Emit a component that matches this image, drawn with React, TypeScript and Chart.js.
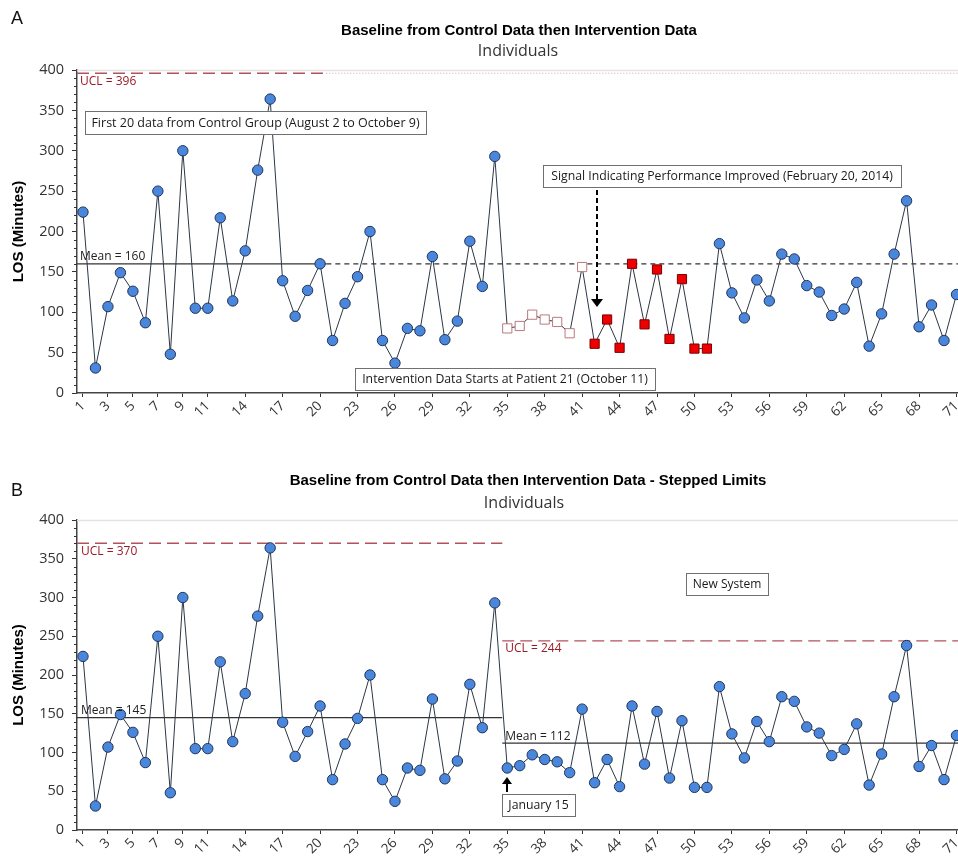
import React, { useEffect, useRef } from 'react';
import { Chart, registerables } from 'chart.js';

Chart.register(...registerables);

// ---------------- DATA ----------------
const losValues: number[] = [
  224, 31, 107, 149, 126, 87, 250, 48, 300, 105,
  105, 217, 114, 176, 276, 364, 139, 95, 127, 160,
  65, 111, 144, 200, 65, 37, 80, 77, 169, 66,
  89, 188, 132, 293, 80, 83, 97, 91, 88, 74,
  156, 61, 91, 56, 160, 85, 153, 67, 141, 55,
  55, 185, 124, 93, 140, 114, 172, 166, 133, 125,
  96, 104, 137, 58, 98, 172, 238, 82, 109, 65,
  122,
];
const patientNumbers: number[] = losValues.map((_, i) => i + 1);
const xTickValues: number[] = [1, 3, 5, 7, 9, 11, 14, 17, 20, 23, 26, 29, 32, 35, 38, 41, 44, 47, 50, 53, 56, 59, 62, 65, 68, 71];
const yTickValues: number[] = [0, 50, 100, 150, 200, 250, 300, 350, 400];

// Panel A: baseline limits from first 20 points, extended
const uclA = 396;
const meanA = 160;
const baselineEndA = 20.5;
// points flagged in panel A
const runPoints: number[] = [35, 36, 37, 38, 39, 40, 41];
const signalPoints: number[] = [42, 43, 44, 45, 46, 47, 48, 49, 50, 51];

// Panel B: stepped limits
const uclB: number[] = [370, 244];
const meanB: number[] = [145, 112];
const stepAtB = 34.6;

const X_MIN = 0.52;
const X_MAX = 71.12;

// ---------------- STYLE ----------------
const W = 958;
const FONT = "'Open Sans', 'Noto Sans', sans-serif";
const TITLE_FONT = "'Liberation Sans', Arial, sans-serif";
const BLUE = '#4a87dc';
const BLUE_BORDER = '#1f3559';
const LINE = '#2c3644';
const UCL_COLOR = '#b4525c';
const UCL_TEXT = '#9a1b27';

type Label = { text: string; x: number; y: number; color: string; base: CanvasTextBaseline };
type Box = { text: string; left: number; top: number; right: number; bottom: number };

type PanelCfg = {
  height: number;
  plotTop: number;
  plotBottom: number;
  title: string;
  titleX: number;
  titleY: number;
  subX: number;
  subY: number;
  letter: string;
  letterY: number;
  datasets: any[];
  labels: (chart: any) => Label[];
  boxes: Box[];
  extra?: (ctx: CanvasRenderingContext2D, chart: any) => void;
};

function seg(from: number, to: number, value: number, color: string, dash: number[], width: number) {
  return {
    data: [{ x: from, y: value }, { x: to, y: value }],
    borderColor: color,
    borderDash: dash,
    borderWidth: width,
    pointRadius: 0,
    fill: false,
    tension: 0,
  };
}

function drawFitText(ctx: CanvasRenderingContext2D, text: string, cx: number, cy: number, maxW: number, size: number) {
  let s = size;
  ctx.font = `${s}px ${FONT}`;
  while (ctx.measureText(text).width > maxW && s > 8) {
    s -= 0.25;
    ctx.font = `${s}px ${FONT}`;
  }
  ctx.textAlign = 'center';
  ctx.textBaseline = 'middle';
  ctx.fillText(text, cx, cy + 1);
}

function makePlugin(cfg: PanelCfg) {
  return {
    id: 'panelDecor',
    afterDraw(chart: any) {
      const ctx: CanvasRenderingContext2D = chart.ctx;
      const { left, right, top, bottom } = chart.chartArea;
      const ys = chart.scales.y;
      ctx.save();
      // top border of plot
      ctx.strokeStyle = '#e2e2e2';
      ctx.lineWidth = 1.5;
      ctx.beginPath();
      ctx.moveTo(left, top + 0.5);
      ctx.lineTo(right, top + 0.5);
      ctx.stroke();
      // minor ticks on y
      ctx.strokeStyle = '#333';
      ctx.lineWidth = 1;
      for (let v = 10; v < 400; v += 10) {
        if (v % 50 === 0) continue;
        const y = Math.round(ys.getPixelForValue(v)) + 0.5;
        ctx.beginPath();
        ctx.moveTo(left - 3, y);
        ctx.lineTo(left, y);
        ctx.stroke();
      }
      // letter
      ctx.fillStyle = '#111';
      ctx.font = `18px ${TITLE_FONT}`;
      ctx.textAlign = 'left';
      ctx.textBaseline = 'middle';
      ctx.fillText(cfg.letter, 11, cfg.letterY);
      // title
      ctx.font = `bold 15px ${TITLE_FONT}`;
      ctx.textAlign = 'center';
      ctx.fillStyle = '#000';
      ctx.fillText(cfg.title, cfg.titleX, cfg.titleY);
      ctx.font = `16px ${FONT}`;
      ctx.fillStyle = '#333';
      ctx.fillText('Individuals', cfg.subX, cfg.subY);
      // y axis title
      ctx.save();
      ctx.translate(19, (top + bottom) / 2);
      ctx.rotate(-Math.PI / 2);
      ctx.font = `bold 15px ${TITLE_FONT}`;
      ctx.fillStyle = '#000';
      ctx.textAlign = 'center';
      ctx.textBaseline = 'middle';
      ctx.fillText('LOS (Minutes)', 0, 0);
      ctx.restore();
      // limit labels
      for (const l of cfg.labels(chart)) {
        ctx.font = `12px ${FONT}`;
        ctx.fillStyle = l.color;
        ctx.textAlign = 'left';
        ctx.textBaseline = l.base;
        ctx.fillText(l.text, l.x, l.y);
      }
      // extra (arrows)
      if (cfg.extra) cfg.extra(ctx, chart);
      // boxes
      for (const b of cfg.boxes) {
        ctx.fillStyle = '#fff';
        ctx.fillRect(b.left, b.top, b.right - b.left, b.bottom - b.top);
        ctx.strokeStyle = '#707070';
        ctx.lineWidth = 1;
        ctx.strokeRect(b.left + 0.5, b.top + 0.5, b.right - b.left, b.bottom - b.top);
        ctx.fillStyle = '#1a1a1a';
        drawFitText(ctx, b.text, (b.left + b.right) / 2, (b.top + b.bottom) / 2, b.right - b.left - 12, 14);
      }
      ctx.restore();
    },
  };
}

function buildOptions(cfg: PanelCfg) {
  return {
    responsive: false,
    animation: false as const,
    events: [],
    layout: { autoPadding: false, padding: { top: cfg.plotTop, left: 0, right: 0, bottom: 0 } },
    plugins: { legend: { display: false }, tooltip: { enabled: false }, title: { display: false } },
    scales: {
      x: {
        type: 'linear' as const,
        min: X_MIN,
        max: X_MAX,
        afterBuildTicks: (s: any) => {
          s.ticks = xTickValues.map((v) => ({ value: v }));
        },
        afterFit: (s: any) => {
          s.height = cfg.height - cfg.plotBottom;
          s.paddingLeft = 0;
          s.paddingRight = 0;
        },
        grid: { display: true, drawOnChartArea: false, drawTicks: true, tickLength: 4, color: '#333' },
        border: { display: true, color: '#444', width: 1.5 },
        ticks: {
          autoSkip: false,
          minRotation: 45,
          maxRotation: 45,
          padding: 1,
          color: '#333',
          font: { family: FONT, size: 13.5 },
          callback: (v: any) => String(v),
        },
      },
      y: {
        type: 'linear' as const,
        min: 0,
        max: 400,
        afterBuildTicks: (s: any) => {
          s.ticks = yTickValues.map((v) => ({ value: v }));
        },
        afterFit: (s: any) => {
          s.width = 77;
          s.paddingTop = 0;
          s.paddingBottom = 0;
        },
        grid: { display: true, drawOnChartArea: false, drawTicks: true, tickLength: 5, color: '#333' },
        border: { display: true, color: '#444', width: 1.5 },
        ticks: { padding: 8, color: '#333', font: { family: FONT, size: 14.5 } },
      },
    },
  };
}

function dataDataset(style: (n: number) => 'A' | 'R' | 'S') {
  const points = patientNumbers.map((n, i) => ({ x: n, y: losValues[i] }));
  const kinds = patientNumbers.map(style);
  return {
    data: points,
    borderColor: LINE,
    borderWidth: 1,
    fill: false,
    tension: 0,
    pointStyle: kinds.map((k) => (k === 'A' ? 'circle' : 'rect')),
    pointRadius: kinds.map((k) => (k === 'A' ? 5.2 : 6.5)),
    pointBackgroundColor: kinds.map((k) => (k === 'A' ? BLUE : k === 'R' ? '#ffffff' : '#ee0000')),
    pointBorderColor: kinds.map((k) => (k === 'A' ? BLUE_BORDER : k === 'R' ? '#b97a7d' : '#7a0000')),
    pointBorderWidth: 1,
  };
}

function panelA(): PanelCfg {
  return {
    height: 430,
    plotTop: 70,
    plotBottom: 393,
    title: 'Baseline from Control Data then Intervention Data',
    titleX: 519,
    titleY: 31,
    subX: 518,
    subY: 51,
    letter: 'A',
    letterY: 19,
    datasets: [
      dataDataset((n) => (runPoints.includes(n) ? 'R' : signalPoints.includes(n) ? 'S' : 'A')),
      seg(X_MIN, baselineEndA, meanA, '#333', [], 1.3),
      seg(baselineEndA, X_MAX, meanA, '#333', [5, 4], 1.3),
      seg(X_MIN, baselineEndA, uclA, UCL_COLOR, [12, 6], 1.3),
      seg(baselineEndA, X_MAX, uclA, '#c9a0a4', [1, 2], 1),
    ],
    labels: (chart) => {
      const xs = chart.scales.x;
      const ys = chart.scales.y;
      const x0 = xs.getPixelForValue(X_MIN) + 3;
      return [
        { text: `UCL = ${uclA}`, x: x0, y: ys.getPixelForValue(uclA) + 2, color: UCL_TEXT, base: 'top' },
        { text: `Mean = ${meanA}`, x: x0, y: ys.getPixelForValue(meanA) - 1, color: '#222', base: 'bottom' },
      ];
    },
    boxes: [
      { text: 'First 20 data from Control Group (August 2 to October 9)', left: 85, top: 111, right: 426, bottom: 134 },
      { text: 'Signal Indicating Performance Improved (February 20, 2014)', left: 543, top: 165, right: 901, bottom: 187 },
      { text: 'Intervention Data Starts at Patient 21 (October 11)', left: 355, top: 368, right: 655, bottom: 390 },
    ],
    extra: (ctx, chart) => {
      const xs = chart.scales.x;
      const x = Math.round(xs.getPixelForValue(42.2));
      ctx.strokeStyle = '#000';
      ctx.lineWidth = 2;
      ctx.setLineDash([5, 3]);
      ctx.beginPath();
      ctx.moveTo(x, 190);
      ctx.lineTo(x, 299);
      ctx.stroke();
      ctx.setLineDash([]);
      ctx.fillStyle = '#000';
      ctx.beginPath();
      ctx.moveTo(x - 6, 299);
      ctx.lineTo(x + 6, 299);
      ctx.lineTo(x, 307);
      ctx.closePath();
      ctx.fill();
    },
  };
}

function panelB(): PanelCfg {
  return {
    height: 429,
    plotTop: 90,
    plotBottom: 400,
    title: 'Baseline from Control Data then Intervention Data - Stepped Limits',
    titleX: 528,
    titleY: 51,
    subX: 524,
    subY: 73,
    letter: 'B',
    letterY: 61,
    datasets: [
      dataDataset(() => 'A'),
      seg(X_MIN, stepAtB, meanB[0], '#333', [], 1.3),
      seg(stepAtB, X_MAX, meanB[1], '#333', [], 1.3),
      seg(X_MIN, stepAtB, uclB[0], UCL_COLOR, [12, 6], 1.3),
      seg(stepAtB, X_MAX, uclB[1], UCL_COLOR, [12, 6], 1.3),
    ],
    labels: (chart) => {
      const xs = chart.scales.x;
      const ys = chart.scales.y;
      const x0 = xs.getPixelForValue(X_MIN) + 4;
      const x1 = xs.getPixelForValue(stepAtB) + 3;
      return [
        { text: `UCL = ${uclB[0]}`, x: x0, y: ys.getPixelForValue(uclB[0]) + 2, color: UCL_TEXT, base: 'top' },
        { text: `Mean = ${meanB[0]}`, x: x0, y: ys.getPixelForValue(meanB[0]) - 1, color: '#222', base: 'bottom' },
        { text: `UCL = ${uclB[1]}`, x: x1, y: ys.getPixelForValue(uclB[1]) + 2, color: UCL_TEXT, base: 'top' },
        { text: `Mean = ${meanB[1]}`, x: x1, y: ys.getPixelForValue(meanB[1]) - 1, color: '#222', base: 'bottom' },
      ];
    },
    boxes: [
      { text: 'New System', left: 686, top: 143, right: 768, bottom: 165 },
      { text: 'January 15', left: 502, top: 364, right: 575, bottom: 386 },
    ],
    extra: (ctx, chart) => {
      const xs = chart.scales.x;
      const x = Math.round(xs.getPixelForValue(35));
      ctx.strokeStyle = '#000';
      ctx.lineWidth = 2;
      ctx.beginPath();
      ctx.moveTo(x, 362);
      ctx.lineTo(x, 352);
      ctx.stroke();
      ctx.fillStyle = '#000';
      ctx.beginPath();
      ctx.moveTo(x - 5, 354);
      ctx.lineTo(x + 5, 354);
      ctx.lineTo(x, 347);
      ctx.closePath();
      ctx.fill();
    },
  };
}

function Panel({ cfg }: { cfg: PanelCfg }) {
  const ref = useRef<HTMLCanvasElement | null>(null);
  useEffect(() => {
    if (!ref.current) return;
    const chart = new Chart(ref.current, {
      type: 'line',
      data: { datasets: cfg.datasets },
      options: buildOptions(cfg) as any,
      plugins: [makePlugin(cfg)],
    });
    return () => chart.destroy();
  }, []);
  return (
    <canvas
      ref={ref}
      width={W}
      height={cfg.height}
      style={{ display: 'block', width: W, height: cfg.height }}
    />
  );
}

export default function App() {
  return (
    <div style={{ position: 'absolute', left: 0, top: 0, width: W, height: 859, background: '#fff' }}>
      <Panel cfg={panelA()} />
      <Panel cfg={panelB()} />
    </div>
  );
}
